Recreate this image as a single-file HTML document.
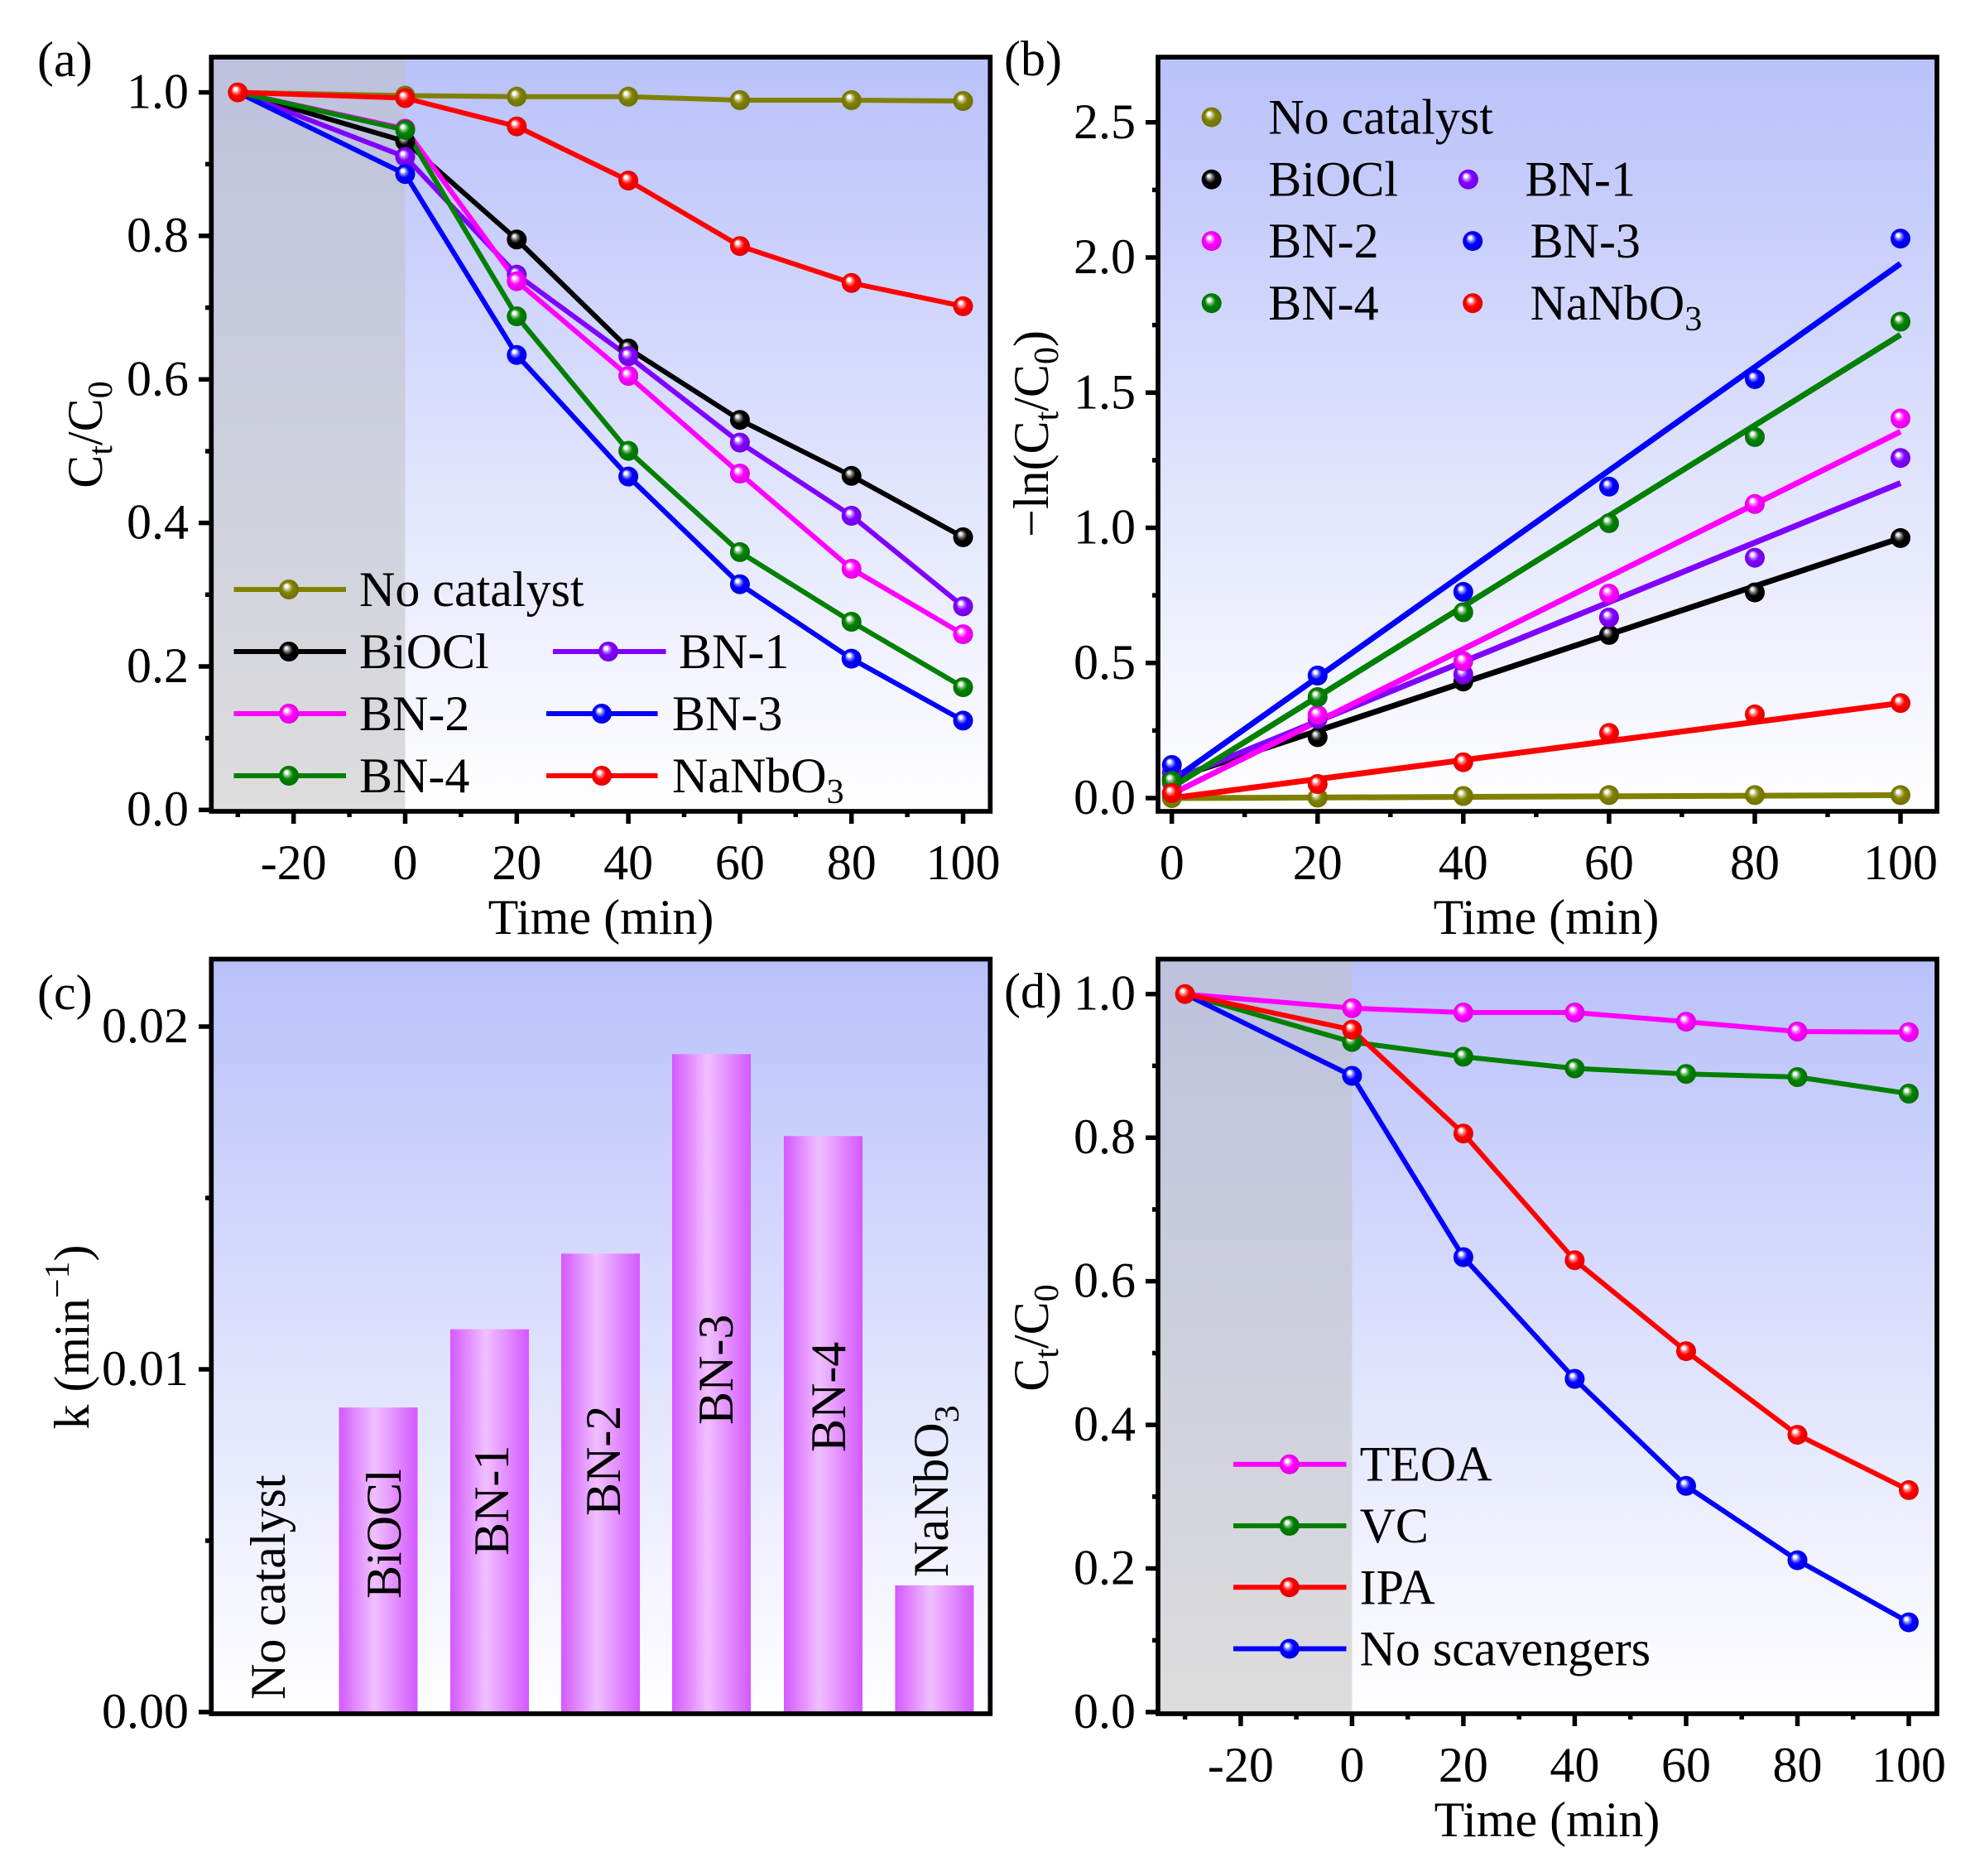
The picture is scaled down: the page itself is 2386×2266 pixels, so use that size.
<!DOCTYPE html>
<html><head><meta charset="utf-8"><style>
html,body{margin:0;padding:0;background:#fff;}
svg{display:block;}
text{font-family:"Liberation Serif","Times New Roman",serif;font-size:60px;fill:#000;}
</style></head><body>
<svg width="2386" height="2266" viewBox="0 0 2386 2266" xmlns="http://www.w3.org/2000/svg">
<defs>
<linearGradient id="bg" x1="0" y1="0" x2="0" y2="1"><stop offset="0" stop-color="#b9c1fa"/><stop offset="1" stop-color="#ffffff"/></linearGradient>
<linearGradient id="gray" x1="0" y1="0" x2="0" y2="1"><stop offset="0" stop-color="#bdc1dd"/><stop offset="1" stop-color="#dddddd"/></linearGradient>
<linearGradient id="bar" x1="0" y1="0" x2="1" y2="0"><stop offset="0" stop-color="#d458ff"/><stop offset="0.45" stop-color="#f0c0ff"/><stop offset="1" stop-color="#d458ff"/></linearGradient>
<radialGradient id="mO" cx="0.5" cy="0.5" r="0.5" fx="0.35" fy="0.3"><stop offset="0" stop-color="#fff"/><stop offset="0.15" stop-color="#fff"/><stop offset="0.32" stop-color="#c0c080"/><stop offset="0.55" stop-color="#808000"/><stop offset="1" stop-color="#707000"/></radialGradient>
<radialGradient id="mK" cx="0.5" cy="0.5" r="0.5" fx="0.35" fy="0.3"><stop offset="0" stop-color="#fff"/><stop offset="0.15" stop-color="#ddd"/><stop offset="0.32" stop-color="#707070"/><stop offset="0.55" stop-color="#000"/><stop offset="1" stop-color="#000"/></radialGradient>
<radialGradient id="mP" cx="0.5" cy="0.5" r="0.5" fx="0.35" fy="0.3"><stop offset="0" stop-color="#fff"/><stop offset="0.15" stop-color="#fff"/><stop offset="0.32" stop-color="#c080ff"/><stop offset="0.55" stop-color="#8000ff"/><stop offset="1" stop-color="#7000e0"/></radialGradient>
<radialGradient id="mM" cx="0.5" cy="0.5" r="0.5" fx="0.35" fy="0.3"><stop offset="0" stop-color="#fff"/><stop offset="0.15" stop-color="#fff"/><stop offset="0.32" stop-color="#ff80ff"/><stop offset="0.55" stop-color="#ff00ff"/><stop offset="1" stop-color="#e000e0"/></radialGradient>
<radialGradient id="mB" cx="0.5" cy="0.5" r="0.5" fx="0.35" fy="0.3"><stop offset="0" stop-color="#fff"/><stop offset="0.15" stop-color="#fff"/><stop offset="0.32" stop-color="#8080ff"/><stop offset="0.55" stop-color="#0000ff"/><stop offset="1" stop-color="#0000e0"/></radialGradient>
<radialGradient id="mG" cx="0.5" cy="0.5" r="0.5" fx="0.35" fy="0.3"><stop offset="0" stop-color="#fff"/><stop offset="0.15" stop-color="#fff"/><stop offset="0.32" stop-color="#80c080"/><stop offset="0.55" stop-color="#008000"/><stop offset="1" stop-color="#007000"/></radialGradient>
<radialGradient id="mR" cx="0.5" cy="0.5" r="0.5" fx="0.35" fy="0.3"><stop offset="0" stop-color="#fff"/><stop offset="0.15" stop-color="#fff"/><stop offset="0.32" stop-color="#ff8080"/><stop offset="0.55" stop-color="#ff0000"/><stop offset="1" stop-color="#e00000"/></radialGradient>
</defs>

<!-- ================= PANEL A ================= -->
<rect x="255.3" y="69" width="941" height="911" fill="url(#bg)"/>
<rect x="255.3" y="69" width="234.2" height="911" fill="url(#gray)"/>
<g fill="none" stroke-width="6" stroke-linejoin="round">
<polyline stroke="#808000" points="287.3,111.6 489.5,115.5 624.3,116.8 759.1,116.8 893.9,121.0 1028.7,121.0 1163.5,122.0"/>
<polyline stroke="#000" points="287.3,111.6 489.5,170.7 624.3,289.3 759.1,420.9 893.9,507.2 1028.7,574.8 1163.5,648.9"/>
<polyline stroke="#8000ff" points="287.3,111.6 489.5,189.4 624.3,331.8 759.1,430.3 893.9,534.6 1028.7,623.0 1163.5,732.4"/>
<polyline stroke="#ff00ff" points="287.3,111.6 489.5,155.4 624.3,339.7 759.1,454.0 893.9,572.0 1028.7,687.0 1163.5,766.1"/>
<polyline stroke="#0000ff" points="287.3,111.6 489.5,210.2 624.3,428.8 759.1,575.6 893.9,705.7 1028.7,795.6 1163.5,870.4"/>
<polyline stroke="#008000" points="287.3,111.6 489.5,157.0 624.3,382.1 759.1,544.6 893.9,666.9 1028.7,751.0 1163.5,830.1"/>
<polyline stroke="#ff0000" points="287.3,111.6 489.5,118.5 624.3,152.7 759.1,218.1 893.9,297.2 1028.7,341.8 1163.5,369.9"/>
</g>
<g>
<g fill="url(#mO)"><circle cx="489.5" cy="115.5" r="12"/><circle cx="624.3" cy="116.8" r="12"/><circle cx="759.1" cy="116.8" r="12"/><circle cx="893.9" cy="121" r="12"/><circle cx="1028.7" cy="121" r="12"/><circle cx="1163.5" cy="122" r="12"/></g>
<g fill="url(#mK)"><circle cx="489.5" cy="170.7" r="12"/><circle cx="624.3" cy="289.3" r="12"/><circle cx="759.1" cy="420.9" r="12"/><circle cx="893.9" cy="507.2" r="12"/><circle cx="1028.7" cy="574.8" r="12"/><circle cx="1163.5" cy="648.9" r="12"/></g>
<g fill="url(#mP)"><circle cx="489.5" cy="189.4" r="12"/><circle cx="624.3" cy="331.8" r="12"/><circle cx="759.1" cy="430.3" r="12"/><circle cx="893.9" cy="534.6" r="12"/><circle cx="1028.7" cy="623" r="12"/><circle cx="1163.5" cy="732.4" r="12"/></g>
<g fill="url(#mM)"><circle cx="489.5" cy="155.4" r="12"/><circle cx="624.3" cy="339.7" r="12"/><circle cx="759.1" cy="454" r="12"/><circle cx="893.9" cy="572" r="12"/><circle cx="1028.7" cy="687" r="12"/><circle cx="1163.5" cy="766.1" r="12"/></g>
<g fill="url(#mB)"><circle cx="489.5" cy="210.2" r="12"/><circle cx="624.3" cy="428.8" r="12"/><circle cx="759.1" cy="575.6" r="12"/><circle cx="893.9" cy="705.7" r="12"/><circle cx="1028.7" cy="795.6" r="12"/><circle cx="1163.5" cy="870.4" r="12"/></g>
<g fill="url(#mG)"><circle cx="489.5" cy="157" r="12"/><circle cx="624.3" cy="382.1" r="12"/><circle cx="759.1" cy="544.6" r="12"/><circle cx="893.9" cy="666.9" r="12"/><circle cx="1028.7" cy="751" r="12"/><circle cx="1163.5" cy="830.1" r="12"/></g>
<g fill="url(#mR)"><circle cx="287.3" cy="111.6" r="12"/><circle cx="489.5" cy="118.5" r="12"/><circle cx="624.3" cy="152.7" r="12"/><circle cx="759.1" cy="218.1" r="12"/><circle cx="893.9" cy="297.2" r="12"/><circle cx="1028.7" cy="341.8" r="12"/><circle cx="1163.5" cy="369.9" r="12"/></g>
</g>
<!-- legend a -->
<g stroke-width="6">
<line x1="282.5" y1="712" x2="418" y2="712" stroke="#808000"/>
<line x1="282.5" y1="787" x2="418" y2="787" stroke="#000"/>
<line x1="282.5" y1="862" x2="418" y2="862" stroke="#ff00ff"/>
<line x1="282.5" y1="937" x2="418" y2="937" stroke="#008000"/>
<line x1="668" y1="787" x2="804.5" y2="787" stroke="#8000ff"/>
<line x1="660" y1="862" x2="794.5" y2="862" stroke="#0000ff"/>
<line x1="660" y1="937" x2="794.5" y2="937" stroke="#ff0000"/>
</g>
<circle cx="349" cy="712" r="12" fill="url(#mO)"/>
<circle cx="349" cy="787" r="12" fill="url(#mK)"/>
<circle cx="349" cy="862" r="12" fill="url(#mM)"/>
<circle cx="349" cy="937" r="12" fill="url(#mG)"/>
<circle cx="735" cy="787" r="12" fill="url(#mP)"/>
<circle cx="727" cy="862" r="12" fill="url(#mB)"/>
<circle cx="727" cy="937" r="12" fill="url(#mR)"/>
<text x="434" y="732">No catalyst</text>
<text x="434" y="807">BiOCl</text>
<text x="434" y="882">BN-2</text>
<text x="434" y="957">BN-4</text>
<text x="820" y="807">BN-1</text>
<text x="812" y="882">BN-3</text>
<text x="812" y="957">NaNbO<tspan font-size="42" dy="13">3</tspan></text>
<!-- frame + ticks a -->
<rect x="255.3" y="69" width="941" height="911" fill="none" stroke="#000" stroke-width="5.7"/>
<g stroke="#000" stroke-width="5.5">
<line x1="255.3" y1="978.3" x2="240" y2="978.3"/><line x1="255.3" y1="805" x2="240" y2="805"/><line x1="255.3" y1="631.6" x2="240" y2="631.6"/><line x1="255.3" y1="458.3" x2="240" y2="458.3"/><line x1="255.3" y1="284.9" x2="240" y2="284.9"/><line x1="255.3" y1="111.6" x2="240" y2="111.6"/>
<line x1="255.3" y1="891.6" x2="248" y2="891.6"/><line x1="255.3" y1="718.3" x2="248" y2="718.3"/><line x1="255.3" y1="545" x2="248" y2="545"/><line x1="255.3" y1="371.6" x2="248" y2="371.6"/><line x1="255.3" y1="198.3" x2="248" y2="198.3"/>
<line x1="354.7" y1="980" x2="354.7" y2="995"/><line x1="489.5" y1="980" x2="489.5" y2="995"/><line x1="624.3" y1="980" x2="624.3" y2="995"/><line x1="759.1" y1="980" x2="759.1" y2="995"/><line x1="893.9" y1="980" x2="893.9" y2="995"/><line x1="1028.7" y1="980" x2="1028.7" y2="995"/><line x1="1163.5" y1="980" x2="1163.5" y2="995"/>
<line x1="287.3" y1="980" x2="287.3" y2="987"/><line x1="422.1" y1="980" x2="422.1" y2="987"/><line x1="556.9" y1="980" x2="556.9" y2="987"/><line x1="691.7" y1="980" x2="691.7" y2="987"/><line x1="826.5" y1="980" x2="826.5" y2="987"/><line x1="961.3" y1="980" x2="961.3" y2="987"/><line x1="1096.1" y1="980" x2="1096.1" y2="987"/>
</g>
<g text-anchor="end">
<text x="228" y="997">0.0</text><text x="228" y="824">0.2</text><text x="228" y="650.6">0.4</text><text x="228" y="477.3">0.6</text><text x="228" y="304">0.8</text><text x="228" y="130.6">1.0</text>
</g>
<g text-anchor="middle">
<text x="354.7" y="1062">-20</text><text x="489.5" y="1062">0</text><text x="624.3" y="1062">20</text><text x="759.1" y="1062">40</text><text x="893.9" y="1062">60</text><text x="1028.7" y="1062">80</text><text x="1163.5" y="1062">100</text>
<text x="726" y="1128">Time (min)</text>
<text transform="translate(123,525) rotate(-90)">C<tspan font-size="42" dy="12">t</tspan><tspan dy="-12">/C</tspan><tspan font-size="42" dy="12">0</tspan></text>
</g>
<text x="45" y="92">(a)</text>

<!-- ================= PANEL B ================= -->
<rect x="1399" y="69" width="941" height="911" fill="url(#bg)"/>
<g fill="none" stroke-width="7" stroke-linecap="butt">
<line x1="1415.7" y1="964" x2="2296" y2="960.5" stroke="#808000"/>
<line x1="1415.7" y1="941" x2="2296" y2="649.9" stroke="#000"/>
<line x1="1415.7" y1="943.1" x2="2296" y2="583.5" stroke="#8000ff"/>
<line x1="1415.7" y1="959" x2="2296" y2="521.4" stroke="#ff00ff"/>
<line x1="1415.7" y1="943" x2="2296" y2="318.5" stroke="#0000ff"/>
<line x1="1415.7" y1="951" x2="2296" y2="404.4" stroke="#008000"/>
<line x1="1415.7" y1="964" x2="2296" y2="849.2" stroke="#ff0000"/>
</g>
<g fill="url(#mK)"><circle cx="1415.7" cy="941" r="12"/><circle cx="1591.8" cy="890.4" r="12"/><circle cx="1767.8" cy="823.2" r="12"/><circle cx="1943.9" cy="766.9" r="12"/><circle cx="2120" cy="715.6" r="12"/><circle cx="2296" cy="649.9" r="12"/></g>
<g fill="url(#mP)"><circle cx="1415.7" cy="933.3" r="12"/><circle cx="1591.8" cy="868.3" r="12"/><circle cx="1767.8" cy="814.5" r="12"/><circle cx="1943.9" cy="745.9" r="12"/><circle cx="2120" cy="673.7" r="12"/><circle cx="2296" cy="553.2" r="12"/></g>
<g fill="url(#mM)"><circle cx="1415.7" cy="945.7" r="12"/><circle cx="1591.8" cy="863.6" r="12"/><circle cx="1767.8" cy="798.7" r="12"/><circle cx="1943.9" cy="717.1" r="12"/><circle cx="2120" cy="608.8" r="12"/><circle cx="2296" cy="505.5" r="12"/></g>
<g fill="url(#mB)"><circle cx="1415.7" cy="924" r="12"/><circle cx="1591.8" cy="816" r="12"/><circle cx="1767.8" cy="714.9" r="12"/><circle cx="1943.9" cy="587.8" r="12"/><circle cx="2120" cy="457.9" r="12"/><circle cx="2296" cy="288.2" r="12"/></g>
<g fill="url(#mG)"><circle cx="1415.7" cy="943.1" r="12"/><circle cx="1591.8" cy="842" r="12"/><circle cx="1767.8" cy="739.5" r="12"/><circle cx="1943.9" cy="631.9" r="12"/><circle cx="2120" cy="527.9" r="12"/><circle cx="2296" cy="388.5" r="12"/></g>
<g fill="url(#mO)"><circle cx="1415.7" cy="964" r="12"/><circle cx="1591.8" cy="963.5" r="12"/><circle cx="1767.8" cy="961.5" r="12"/><circle cx="1943.9" cy="960.4" r="12"/><circle cx="2120" cy="960.4" r="12"/><circle cx="2296" cy="960.4" r="12"/></g>
<g fill="url(#mR)"><circle cx="1415.7" cy="958" r="12"/><circle cx="1591.8" cy="947" r="12"/><circle cx="1767.8" cy="920.7" r="12"/><circle cx="1943.9" cy="885.3" r="12"/><circle cx="2120" cy="862.9" r="12"/><circle cx="2296" cy="849.2" r="12"/></g>
<!-- legend b -->
<circle cx="1463.7" cy="141.6" r="12" fill="url(#mO)"/>
<circle cx="1463.7" cy="216.7" r="12" fill="url(#mK)"/>
<circle cx="1463.7" cy="291.1" r="12" fill="url(#mM)"/>
<circle cx="1463.7" cy="366.2" r="12" fill="url(#mG)"/>
<circle cx="1773.9" cy="216.7" r="12" fill="url(#mP)"/>
<circle cx="1779.2" cy="291.1" r="12" fill="url(#mB)"/>
<circle cx="1779.2" cy="366.2" r="12" fill="url(#mR)"/>
<text x="1532.3" y="161.6">No catalyst</text>
<text x="1532.3" y="236.7">BiOCl</text>
<text x="1532.3" y="311.1">BN-2</text>
<text x="1532.3" y="386.2">BN-4</text>
<text x="1842.5" y="236.7">BN-1</text>
<text x="1848.6" y="311.1">BN-3</text>
<text x="1848.6" y="386.2">NaNbO<tspan font-size="42" dy="13">3</tspan></text>
<rect x="1399" y="69" width="941" height="911" fill="none" stroke="#000" stroke-width="5.7"/>
<g stroke="#000" stroke-width="5.5">
<line x1="1399" y1="964" x2="1384" y2="964"/><line x1="1399" y1="800.75" x2="1384" y2="800.75"/><line x1="1399" y1="637.5" x2="1384" y2="637.5"/><line x1="1399" y1="474.25" x2="1384" y2="474.25"/><line x1="1399" y1="311" x2="1384" y2="311"/><line x1="1399" y1="147.75" x2="1384" y2="147.75"/>
<line x1="1399" y1="882.4" x2="1392" y2="882.4"/><line x1="1399" y1="719.1" x2="1392" y2="719.1"/><line x1="1399" y1="555.9" x2="1392" y2="555.9"/><line x1="1399" y1="392.6" x2="1392" y2="392.6"/><line x1="1399" y1="229.4" x2="1392" y2="229.4"/>
<line x1="1415.7" y1="980" x2="1415.7" y2="995"/><line x1="1591.8" y1="980" x2="1591.8" y2="995"/><line x1="1767.8" y1="980" x2="1767.8" y2="995"/><line x1="1943.9" y1="980" x2="1943.9" y2="995"/><line x1="2120" y1="980" x2="2120" y2="995"/><line x1="2296" y1="980" x2="2296" y2="995"/>
<line x1="1503.7" y1="980" x2="1503.7" y2="987"/><line x1="1679.8" y1="980" x2="1679.8" y2="987"/><line x1="1855.9" y1="980" x2="1855.9" y2="987"/><line x1="2031.9" y1="980" x2="2031.9" y2="987"/><line x1="2208" y1="980" x2="2208" y2="987"/>
</g>
<g text-anchor="end">
<text x="1372" y="983">0.0</text><text x="1372" y="819.75">0.5</text><text x="1372" y="656.5">1.0</text><text x="1372" y="493.25">1.5</text><text x="1372" y="330">2.0</text><text x="1372" y="166.75">2.5</text>
</g>
<g text-anchor="middle">
<text x="1415.7" y="1062">0</text><text x="1591.8" y="1062">20</text><text x="1767.8" y="1062">40</text><text x="1943.9" y="1062">60</text><text x="2120" y="1062">80</text><text x="2296" y="1062">100</text>
<text x="1868" y="1128">Time (min)</text>
<text transform="translate(1266,524) rotate(-90)">−ln(C<tspan font-size="42" dy="12">t</tspan><tspan dy="-12">/C</tspan><tspan font-size="42" dy="12">0</tspan><tspan dy="-12">)</tspan></text>
</g>
<text x="1213" y="91">(b)</text>

<!-- ================= PANEL C ================= -->
<rect x="255.3" y="1158.5" width="941" height="911.5" fill="url(#bg)"/>
<g fill="url(#bar)">
<rect x="409.5" y="1700.1" width="95" height="369.9"/>
<rect x="544" y="1605.6" width="95" height="464.4"/>
<rect x="678" y="1514.2" width="95" height="555.8"/>
<rect x="812" y="1273.3" width="95" height="796.7"/>
<rect x="947" y="1372.2" width="95" height="697.8"/>
<rect x="1081.4" y="1915" width="95" height="155"/>
</g>
<text transform="translate(344,2053) rotate(-90)">No catalyst</text>
<text transform="translate(484,1931) rotate(-90)">BiOCl</text>
<text transform="translate(614,1879) rotate(-90)">BN-1</text>
<text transform="translate(749,1831) rotate(-90)">BN-2</text>
<text transform="translate(885,1721) rotate(-90)">BN-3</text>
<text transform="translate(1021,1754) rotate(-90)">BN-4</text>
<text transform="translate(1145,1905) rotate(-90)">NaNbO<tspan font-size="42" dy="13">3</tspan></text>
<rect x="255.3" y="1158.5" width="941" height="911.5" fill="none" stroke="#000" stroke-width="5.7"/>
<g stroke="#000" stroke-width="5.5">
<line x1="255.3" y1="2068" x2="240" y2="2068"/><line x1="255.3" y1="1654" x2="240" y2="1654"/><line x1="255.3" y1="1240" x2="240" y2="1240"/>
<line x1="255.3" y1="1861" x2="248" y2="1861"/><line x1="255.3" y1="1447" x2="248" y2="1447"/>
</g>
<g text-anchor="end">
<text x="228" y="2087">0.00</text><text x="228" y="1673">0.01</text><text x="228" y="1259">0.02</text>
</g>
<text transform="translate(107,1615) rotate(-90)" text-anchor="middle">k (min<tspan font-size="42" dy="-24">−1</tspan><tspan dy="24">)</tspan></text>
<text x="45" y="1219">(c)</text>

<!-- ================= PANEL D ================= -->
<rect x="1399" y="1158.5" width="941" height="911.5" fill="url(#bg)"/>
<rect x="1399" y="1158.5" width="234.4" height="911.5" fill="url(#gray)"/>
<g fill="none" stroke-width="6" stroke-linejoin="round">
<polyline stroke="#ff00ff" points="1431.6,1200.7 1633.4,1217.8 1767.9,1223.0 1902.4,1223.0 2037,1234.1 2171.5,1246.0 2306,1246.7"/>
<polyline stroke="#008000" points="1431.6,1200.7 1633.4,1258.6 1767.9,1276.4 1902.4,1290.5 2037,1297.2 2171.5,1301.0 2306,1321.0"/>
<polyline stroke="#0000ff" points="1431.6,1200.7 1633.4,1299.5 1767.9,1518.5 1902.4,1665.5 2037,1794.8 2171.5,1884.6 2306,1959.6"/>
<polyline stroke="#ff0000" points="1431.6,1200.7 1633.4,1243.8 1767.9,1369.2 1902.4,1522.2 2037,1632.1 2171.5,1733.1 2306,1799.9"/>
</g>
<g fill="url(#mM)"><circle cx="1633.4" cy="1217.8" r="12"/><circle cx="1767.9" cy="1223" r="12"/><circle cx="1902.4" cy="1223" r="12"/><circle cx="2037" cy="1234.1" r="12"/><circle cx="2171.5" cy="1246" r="12"/><circle cx="2306" cy="1246.7" r="12"/></g>
<g fill="url(#mG)"><circle cx="1633.4" cy="1258.6" r="12"/><circle cx="1767.9" cy="1276.4" r="12"/><circle cx="1902.4" cy="1290.5" r="12"/><circle cx="2037" cy="1297.2" r="12"/><circle cx="2171.5" cy="1301" r="12"/><circle cx="2306" cy="1321" r="12"/></g>
<g fill="url(#mB)"><circle cx="1633.4" cy="1299.5" r="12"/><circle cx="1767.9" cy="1518.5" r="12"/><circle cx="1902.4" cy="1665.5" r="12"/><circle cx="2037" cy="1794.8" r="12"/><circle cx="2171.5" cy="1884.6" r="12"/><circle cx="2306" cy="1959.6" r="12"/></g>
<g fill="url(#mR)"><circle cx="1431.6" cy="1200.7" r="12"/><circle cx="1633.4" cy="1243.8" r="12"/><circle cx="1767.9" cy="1369.2" r="12"/><circle cx="1902.4" cy="1522.2" r="12"/><circle cx="2037" cy="1632.1" r="12"/><circle cx="2171.5" cy="1733.1" r="12"/><circle cx="2306" cy="1799.9" r="12"/></g>
<!-- legend d -->
<g stroke-width="6">
<line x1="1490" y1="1768.7" x2="1626.5" y2="1768.7" stroke="#ff00ff"/>
<line x1="1490" y1="1843" x2="1626.5" y2="1843" stroke="#008000"/>
<line x1="1490" y1="1917.3" x2="1626.5" y2="1917.3" stroke="#ff0000"/>
<line x1="1490" y1="1991.5" x2="1626.5" y2="1991.5" stroke="#0000ff"/>
</g>
<circle cx="1557.8" cy="1768.7" r="12" fill="url(#mM)"/>
<circle cx="1557.8" cy="1843" r="12" fill="url(#mG)"/>
<circle cx="1557.8" cy="1917.3" r="12" fill="url(#mR)"/>
<circle cx="1557.8" cy="1991.5" r="12" fill="url(#mB)"/>
<text x="1642.6" y="1788.7">TEOA</text>
<text x="1642.6" y="1863">VC</text>
<text x="1642.6" y="1937.3">IPA</text>
<text x="1642.6" y="2011.5">No scavengers</text>
<rect x="1399" y="1158.5" width="941" height="911.5" fill="none" stroke="#000" stroke-width="5.7"/>
<g stroke="#000" stroke-width="5.5">
<line x1="1399" y1="2068" x2="1384" y2="2068"/><line x1="1399" y1="1894.5" x2="1384" y2="1894.5"/><line x1="1399" y1="1721.1" x2="1384" y2="1721.1"/><line x1="1399" y1="1547.6" x2="1384" y2="1547.6"/><line x1="1399" y1="1374.2" x2="1384" y2="1374.2"/><line x1="1399" y1="1200.7" x2="1384" y2="1200.7"/>
<line x1="1399" y1="1981.3" x2="1392" y2="1981.3"/><line x1="1399" y1="1807.8" x2="1392" y2="1807.8"/><line x1="1399" y1="1634.4" x2="1392" y2="1634.4"/><line x1="1399" y1="1460.9" x2="1392" y2="1460.9"/><line x1="1399" y1="1287.4" x2="1392" y2="1287.4"/>
<line x1="1498.9" y1="2070" x2="1498.9" y2="2085"/><line x1="1633.4" y1="2070" x2="1633.4" y2="2085"/><line x1="1767.9" y1="2070" x2="1767.9" y2="2085"/><line x1="1902.4" y1="2070" x2="1902.4" y2="2085"/><line x1="2037" y1="2070" x2="2037" y2="2085"/><line x1="2171.5" y1="2070" x2="2171.5" y2="2085"/><line x1="2306" y1="2070" x2="2306" y2="2085"/>
<line x1="1431.6" y1="2070" x2="1431.6" y2="2077"/><line x1="1566.1" y1="2070" x2="1566.1" y2="2077"/><line x1="1700.7" y1="2070" x2="1700.7" y2="2077"/><line x1="1835.2" y1="2070" x2="1835.2" y2="2077"/><line x1="1969.7" y1="2070" x2="1969.7" y2="2077"/><line x1="2104.2" y1="2070" x2="2104.2" y2="2077"/><line x1="2238.7" y1="2070" x2="2238.7" y2="2077"/>
</g>
<g text-anchor="end">
<text x="1372" y="2087">0.0</text><text x="1372" y="1913.5">0.2</text><text x="1372" y="1740.1">0.4</text><text x="1372" y="1566.6">0.6</text><text x="1372" y="1393.2">0.8</text><text x="1372" y="1219.7">1.0</text>
</g>
<g text-anchor="middle">
<text x="1498.9" y="2152">-20</text><text x="1633.4" y="2152">0</text><text x="1767.9" y="2152">20</text><text x="1902.4" y="2152">40</text><text x="2037" y="2152">60</text><text x="2171.5" y="2152">80</text><text x="2306" y="2152">100</text>
<text x="1869" y="2218">Time (min)</text>
<text transform="translate(1266,1616) rotate(-90)">C<tspan font-size="42" dy="12">t</tspan><tspan dy="-12">/C</tspan><tspan font-size="42" dy="12">0</tspan></text>
</g>
<text x="1213" y="1217">(d)</text>
</svg>
</body></html>
